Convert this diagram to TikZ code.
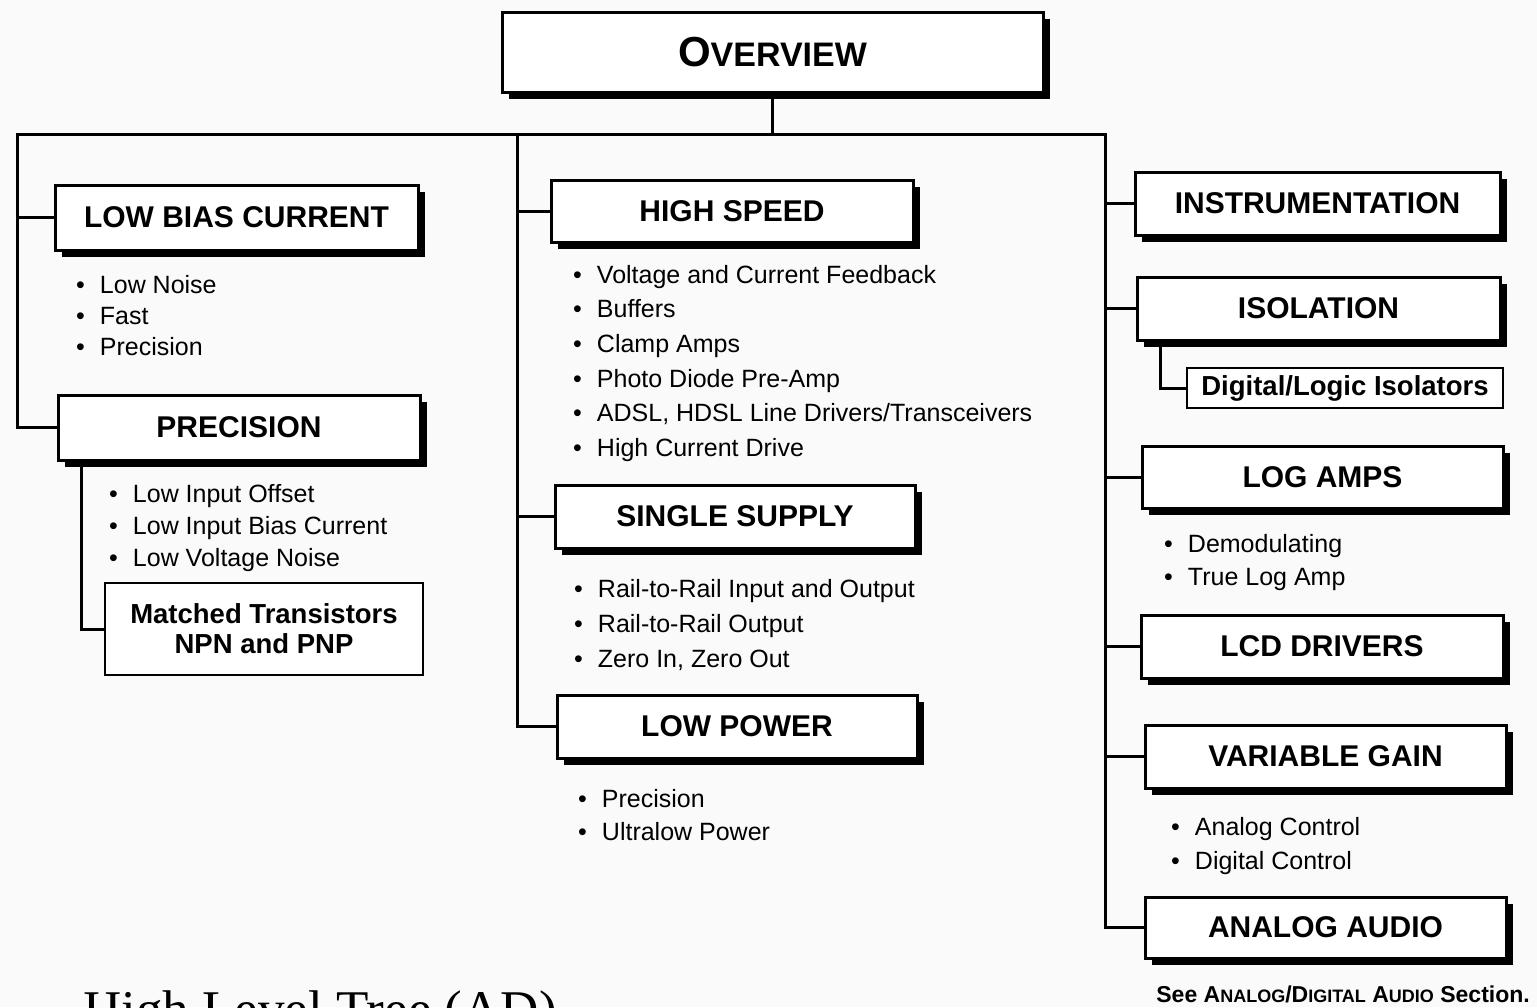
\documentclass[tikz,border=0pt]{standalone}
\usepackage{fontspec}
\setmainfont{Liberation Sans}
\newfontfamily\captionserif{Liberation Serif}
\usetikzlibrary{calc, shadows}
\newcommand{\bitem}[1]{\textbullet\hspace{0.6em}#1}
\newcommand{\smc}[1]{{\fontsize{18}{18}\selectfont #1}}

\begin{document}
\begin{tikzpicture}[x=1pt, y=-1pt, every node/.style={inner sep=0pt},
  catbox/.style={draw, line width=3pt, fill=white, minimum width=362pt, minimum height=63pt, font=\fontsize{30}{36}\selectfont\bfseries, drop shadow={shadow xshift=7pt, shadow yshift=-7pt, fill=black, opacity=1}},
  subbox/.style={draw, line width=2.5pt, fill=white, align=center, font=\fontsize{27.5}{30}\selectfont\bfseries},
  items/.style={anchor=north west, align=left, font=\fontsize{25}{#1}\selectfont},
  tree/.style={line width=3pt}]
  \clip (0,0) rectangle (1537,1007);
  \fill[black!2] (0,0) rectangle (1537,1007);

  % top box
  \node[catbox, minimum width=541pt, minimum height=80pt] (ov) at (772.5,52) {{\fontsize{42}{42}\selectfont O}{\fontsize{34}{34}\selectfont VERVIEW}};

  % left column
  \node[catbox, minimum width=363pt, minimum height=65pt] (lbc) at (236.5,217.5) {LOW BIAS CURRENT};
  \node[items=31] (lbcitems) at (76,275) {\bitem{Low Noise}\\ \bitem{Fast}\\ \bitem{Precision}};
  \node[catbox, minimum height=65pt] (prec) at (239,427.5) {PRECISION};
  \node[items=32] (precitems) at (109,484) {\bitem{Low Input Offset}\\ \bitem{Low Input Bias Current}\\ \bitem{Low Voltage Noise}};
  \node[subbox, minimum width=318pt, minimum height=92pt] (mt) at (264,629) {Matched Transistors\\NPN and PNP};

  % middle column
  \node[catbox, minimum height=62pt] (hs) at (732,211) {HIGH SPEED};
  \node[items=34.6] (hsitems) at (573,265) {\bitem{Voltage and Current Feedback}\\ \bitem{Buffers}\\ \bitem{Clamp Amps}\\ \bitem{Photo Diode Pre-Amp}\\ \bitem{ADSL, HDSL Line Drivers/Transceivers}\\ \bitem{High Current Drive}};
  \node[catbox, minimum width=360pt] (ss) at (735,516.5) {SINGLE SUPPLY};
  \node[items=35] (ssitems) at (574,579) {\bitem{Rail-to-Rail Input and Output}\\ \bitem{Rail-to-Rail Output}\\ \bitem{Zero In, Zero Out}};
  \node[catbox, minimum width=360pt] (lp) at (737,726.5) {LOW POWER};
  \node[items=33] (lpitems) at (578,789) {\bitem{Precision}\\ \bitem{Ultralow Power}};

  % right column
  \node[catbox, minimum width=365pt] (ins) at (1317.5,203.5) {INSTRUMENTATION};
  \node[catbox, minimum width=363pt] (iso) at (1318.5,308.5) {ISOLATION};
  \node[subbox, minimum width=316pt, minimum height=40pt] (dli) at (1345,388) {Digital/Logic Isolators};
  \node[catbox, minimum width=361pt, minimum height=62pt] (la) at (1322.5,477) {LOG AMPS};
  \node[items=33] (laitems) at (1164,534) {\bitem{Demodulating}\\ \bitem{True Log Amp}};
  \node[catbox] (lcd) at (1322,646.5) {LCD DRIVERS};
  \node[catbox, minimum width=361pt] (vg) at (1325.5,756.5) {VARIABLE GAIN};
  \node[items=34] (vgitems) at (1171,817) {\bitem{Analog Control}\\ \bitem{Digital Control}};
  \node[catbox, minimum width=361pt, minimum height=61pt] (aa) at (1325.5,927.5) {ANALOG AUDIO};

  % tree lines
  \coordinate (busL) at (17,134);
  \coordinate (busM) at (517,134);
  \coordinate (busR) at (1105,134);
  \draw[tree] (ov.south) -- (ov.south |- busM);
  \draw[tree] (prec.west) -| (busL) -- (busR) |- (aa.west);
  \draw[tree] (busL |- lbc.west) -- (lbc.west);
  \draw[tree] (busM) |- (lp.west);
  \draw[tree] (busM |- hs.west) -- (hs.west);
  \draw[tree] (busM |- ss.west) -- (ss.west);
  \draw[tree] (busR |- ins.west) -- (ins.west);
  \draw[tree] (busR |- iso.west) -- (iso.west);
  \draw[tree] (busR |- la.west) -- (la.west);
  \draw[tree] (busR |- lcd.west) -- (lcd.west);
  \draw[tree] (busR |- vg.west) -- (vg.west);
  \draw[tree] ([xshift=25pt]prec.south west) |- (mt.west);
  \draw[tree] ([xshift=25pt]iso.south west) |- (dli.west);

  % notes
  \node[anchor=base east, font=\fontsize{23}{23}\selectfont\bfseries] (note) at (1530,1002) {See A\smc{NALOG}/D\smc{IGITAL} A\smc{UDIO} Section.};
  \node[anchor=base west, font=\captionserif\fontsize{53}{53}\selectfont] (caption) at (83,1027) {High Level Tree (AD)};
\end{tikzpicture}
\end{document}
